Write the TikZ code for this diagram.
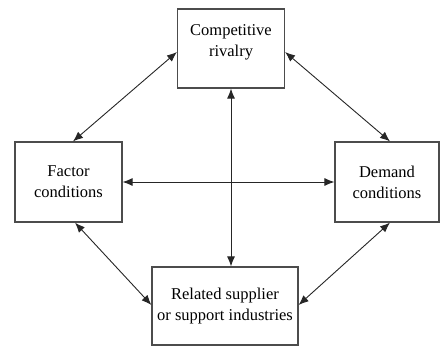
\documentclass[tikz,border=0pt]{standalone}
\usepackage{fontspec}
\setmainfont{Liberation Serif}
\usetikzlibrary{arrows.meta}
\begin{document}
\begin{tikzpicture}[x=1pt,y=-1pt,
  caption/.style={align=center, font=\fontsize{16.5}{21}\selectfont, inner sep=0pt},
  factor/.style={caption, draw=black!70, line width=1.2pt, fill=white},
  link/.style={draw=black!85, line width=0.9pt, {Latex[length=10pt,width=8pt]}-{Latex[length=10pt,width=8pt]}}]
  \useasboundingbox (0,0) rectangle (443,347);
  \node[factor, minimum width=107pt, minimum height=79pt] (rival) at (231,48.5) {};
  \node[caption] (rivaltext) at (231,42) {Competitive\\rivalry};
  \node[factor, minimum width=107pt, minimum height=80pt] (factor) at (68.5,182) {Factor\\conditions};
  \node[factor, minimum width=104pt, minimum height=80pt] (demand) at (387,182) {Demand\\conditions};
  \node[factor, minimum width=146pt, minimum height=78pt] (related) at (225,306) {Related supplier\\or support industries};
  \coordinate (rl) at (rival.west |- 0,52);
  \coordinate (rr) at (rival.east |- 0,52);
  \draw[link] (factor.north -| 73,0) -- (rl);
  \draw[link] (rr) -- (demand.north -| 390,0);
  \draw[link] (factor.south -| 75,0) -- (related.west |- 0,305);
  \draw[link] (related.east |- 0,305) -- (demand.south -| 390,0);
  \draw[link] (factor.east) -- (demand.west);
  \draw[link] (rival.south -| 231,0) -- (related.north -| 231,0);
\end{tikzpicture}
\end{document}
